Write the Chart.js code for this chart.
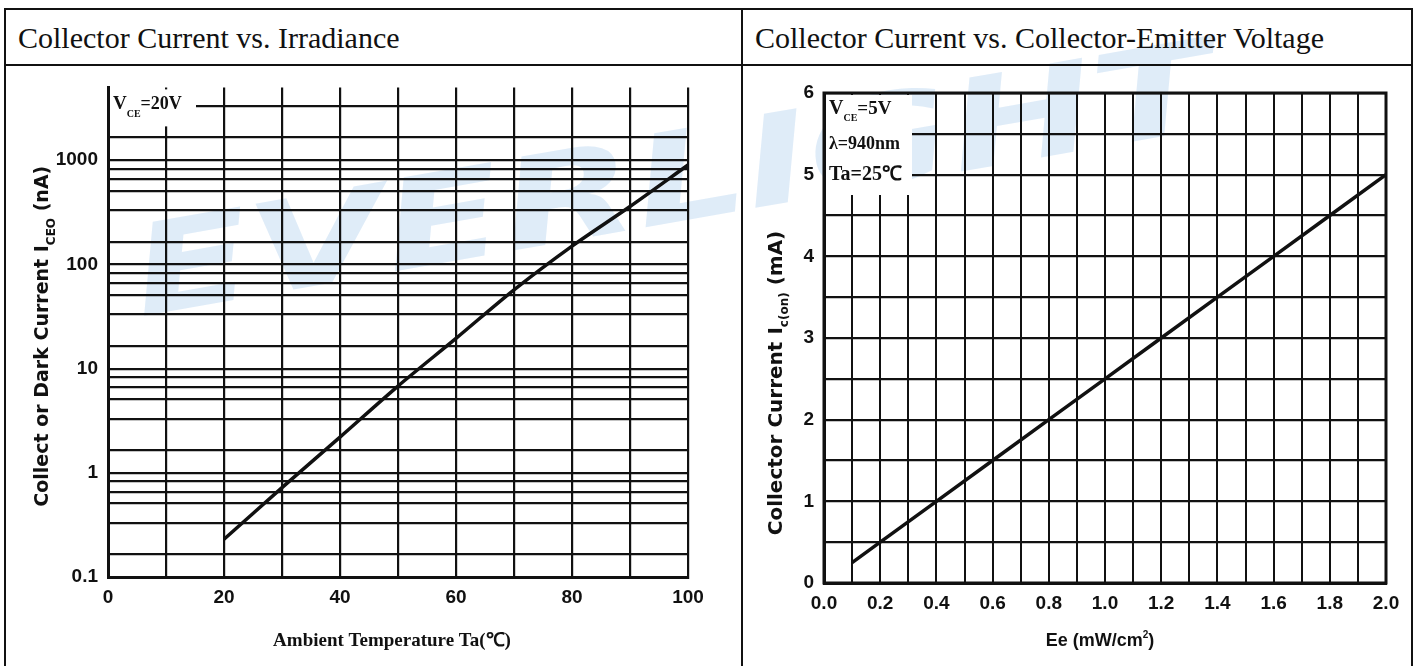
<!DOCTYPE html>
<html>
<head>
<meta charset="utf-8">
<script src="https://cdn.jsdelivr.net/npm/chart.js@4"></script>
<style>
  body { margin: 0; background: #fff; width: 1417px; height: 666px; overflow: hidden; position: relative; font-family: "Liberation Serif", serif; }
  .line { position: absolute; background: #111; }
  .head { position: absolute; top: 23px; font-size: 30px; line-height: 30px; color: #111; font-family: "Liberation Serif", serif; }
  .wm { position: absolute; left: 122px; top: 212px; font: italic bold 125px/1 "DejaVu Sans", sans-serif; color: rgba(140,185,230,0.28);
        transform: rotate(-10deg) scaleX(1.4); transform-origin: left top; white-space: nowrap; z-index: 0; }
  .box { position: absolute; z-index: 1; }
</style>
</head>
<body>
<div class="wm">EVERLIGHT</div>

<div class="line" style="left:4px;top:8px;width:1409px;height:2px"></div>
<div class="line" style="left:4px;top:64px;width:1409px;height:2px"></div>
<div class="line" style="left:4px;top:8px;width:2px;height:660px"></div>
<div class="line" style="left:741px;top:8px;width:2px;height:660px"></div>
<div class="line" style="left:1411px;top:8px;width:2px;height:660px"></div>
<div class="head" style="left:18px">Collector Current vs. Irradiance</div>
<div class="head" style="left:755px">Collector Current vs. Collector-Emitter Voltage</div>

<div class="box" style="left:6px;top:66px;width:734px;height:600px"><canvas id="darkChart"></canvas></div>
<div class="box" style="left:744px;top:66px;width:666px;height:600px"><canvas id="onChart"></canvas></div>

<script>
// left chart: dark current vs temperature
const tempC = [20, 30, 40, 50, 60, 70, 80, 90, 100];
const darkCurrent = [0.23, 0.72, 2.2, 6.8, 19.5, 57, 150, 360, 900];
const darkDecades = [0.1, 1, 10, 100, 1000];
const darkDecadeLabels = ['0.1', '1', '10', '100', '1000'];
const darkMinorSteps = [0.83, 0.66, 0.51, 0.33, 0.165];
const tempTicks = [0, 20, 40, 60, 80, 100];

// right chart: collector current vs irradiance
const irradiance = [0.1, 0.2, 0.4, 0.6, 0.8, 1.0, 1.2, 1.4, 1.6, 1.8, 2.0];
const onCurrent = [0.25, 0.5, 1.0, 1.5, 2.0, 2.5, 3.0, 3.5, 4.0, 4.5, 5.0];

Chart.defaults.animation = false;
Chart.defaults.color = '#111';

const tickFont = { family: '"Liberation Sans Narrow", "Liberation Sans", sans-serif', weight: 'bold', size: 19 };

// draws a line of text made of pieces, some of them subscript
function drawRich(ctx, parts, x, y, align) {
  let w = 0;
  parts.forEach(p => { ctx.font = p.font; w += ctx.measureText(p.text).width; });
  let cx = align === 'center' ? x - w / 2 : x;
  ctx.textAlign = 'left';
  ctx.textBaseline = 'alphabetic';
  parts.forEach(p => {
    ctx.font = p.font;
    ctx.fillText(p.text, cx, y + (p.dy || 0));
    cx += ctx.measureText(p.text).width;
  });
  return w;
}

// axis titles and note boxes
const extrasPlugin = {
  id: 'extras',
  afterDraw(chart, args, opts) {
    const ctx = chart.ctx;
    const a = chart.chartArea;
    ctx.save();
    // note box, white patch over the grid
    const b = opts.box;
    ctx.fillStyle = '#fff';
    ctx.fillRect(a.left + 2, a.top + 2, b.w, b.h);
    ctx.fillStyle = '#111';
    b.lines.forEach(l => drawRich(ctx, l.parts, a.left + 5, a.top + l.y, 'left'));
    // x title
    drawRich(ctx, opts.xTitle, (a.left + a.right) / 2 + (opts.xShift || 0), opts.xTitleY, 'center');
    // y title
    ctx.translate(opts.yTitleX, (a.top + a.bottom) / 2 + (opts.yShift || 0));
    ctx.rotate(-Math.PI / 2);
    drawRich(ctx, opts.yTitle, 0, 0, 'center');
    ctx.restore();
  }
};

const serifB = s => 'bold ' + s + 'px "Liberation Serif", serif';
const heavy = s => 'bold ' + s + 'px "DejaVu Sans", sans-serif';
const narrowB = s => 'bold ' + s + 'px "Liberation Sans Narrow", sans-serif';

const darkGrid = [];
darkDecades.concat([10000]).forEach(d => {
  if (d <= 1000) darkGrid.push(d);
  darkMinorSteps.forEach(m => {
    const v = d * m;
    if (v > 0.1 && v < 5000) darkGrid.push(+v.toPrecision(4));
  });
});

new Chart(document.getElementById('darkChart'), {
  type: 'line',
  data: {
    labels: tempC,
    datasets: [{
      data: tempC.map((t, i) => ({ x: t, y: darkCurrent[i] })),
      borderColor: '#111',
      borderWidth: 3.5,
      pointRadius: 0,
      tension: 0.3
    }]
  },
  options: {
    responsive: true,
    maintainAspectRatio: false,
    layout: { padding: { left: 0, top: 19, right: 52, bottom: 0 } },
    plugins: {
      legend: { display: false },
      tooltip: { enabled: false },
      extras: {
        box: { w: 86, h: 37, lines: [
          { y: 22, parts: [{ text: 'V', font: serifB(19) }, { text: 'CE', font: serifB(10), dy: 8 }, { text: '=20V', font: serifB(18) }] }
        ] },
        xTitle: [{ text: 'Ambient Temperature Ta(\u2103)', font: serifB(19) }],
        xTitleY: 580,
        xShift: -6,
        yTitle: [{ text: 'Collect or Dark Current I', font: heavy(19) }, { text: 'CEO', font: heavy(12), dy: 7 }, { text: ' (nA)', font: heavy(19) }],
        yTitleX: 42,
        yShift: 4
      }
    },
    scales: {
      x: {
        type: 'linear',
        min: 0, max: 100,
        afterBuildTicks: s => { s.ticks = [0, 10, 20, 30, 40, 50, 60, 70, 80, 90, 100].map(v => ({ value: v })); },
        ticks: { font: tickFont, maxRotation: 0, autoSkip: false, padding: 9,
                 callback: v => tempTicks.includes(v) ? String(v) : '' },
        grid: { color: '#111', lineWidth: 2.2, drawTicks: false },
        border: { color: '#111', width: 3 },
        afterFit: s => { s.height = 89; }
      },
      y: {
        type: 'logarithmic',
        min: 0.1, max: 5000,
        afterBuildTicks: s => { s.ticks = darkGrid.map(v => ({ value: v })); },
        ticks: { font: tickFont, autoSkip: false, padding: 10,
                 callback: v => { const i = darkDecades.indexOf(v); return i >= 0 ? darkDecadeLabels[i] : ''; } },
        grid: { color: '#111', lineWidth: 2.2, drawTicks: false },
        border: { color: '#111', width: 3 },
        afterFit: s => { s.width = 102; }
      }
    }
  },
  plugins: [extrasPlugin]
});

// full frame round the plot area
const framePlugin = {
  id: 'frame',
  afterDatasetsDraw(chart) {
    const a = chart.chartArea, ctx = chart.ctx;
    ctx.save();
    ctx.strokeStyle = '#111';
    ctx.lineWidth = 3;
    ctx.strokeRect(a.left, a.top, a.right - a.left, a.bottom - a.top);
    ctx.restore();
  }
};
Chart.register(framePlugin);

new Chart(document.getElementById('onChart'), {
  type: 'line',
  data: {
    labels: irradiance,
    datasets: [{
      data: irradiance.map((e, i) => ({ x: e, y: onCurrent[i] })),
      borderColor: '#111',
      borderWidth: 3.5,
      pointRadius: 0
    }]
  },
  options: {
    responsive: true,
    maintainAspectRatio: false,
    layout: { padding: { left: 0, top: 27, right: 24, bottom: 0 } },
    plugins: {
      legend: { display: false },
      tooltip: { enabled: false },
      extras: {
        box: { w: 86, h: 100, lines: [
          { y: 21, parts: [{ text: 'V', font: serifB(20) }, { text: 'CE', font: serifB(10), dy: 7 }, { text: '=5V', font: serifB(19) }] },
          { y: 56, parts: [{ text: '\u03bb=940nm', font: serifB(18) }] },
          { y: 87, parts: [{ text: 'Ta=25\u2103', font: serifB(20) }] }
        ] },
        xTitle: [{ text: 'Ee (mW/cm', font: narrowB(18) }, { text: '2', font: narrowB(10), dy: -8 }, { text: ')', font: narrowB(18) }],
        xTitleY: 580,
        xShift: -5,
        yTitle: [{ text: 'Collector Current I', font: heavy(20) }, { text: 'c(on)', font: heavy(12), dy: 6 }, { text: ' (mA)', font: heavy(20) }],
        yTitleX: 38,
        yShift: 45
      }
    },
    scales: {
      x: {
        type: 'linear',
        min: 0, max: 2,
        ticks: { stepSize: 0.1, font: tickFont, maxRotation: 0, autoSkip: false, padding: 9,
                 callback: (v, i) => i % 2 === 0 ? v.toFixed(1) : '' },
        grid: { color: '#111', lineWidth: 2, drawTicks: false },
        border: { color: '#111', width: 3 },
        afterFit: s => { s.height = 83; }
      },
      y: {
        type: 'linear',
        min: 0, max: 6,
        ticks: { stepSize: 0.5, font: tickFont, autoSkip: false, padding: 10,
                 callback: v => Number.isInteger(v) ? String(v) : '' },
        grid: { color: '#111', lineWidth: 2.2, drawTicks: false },
        border: { color: '#111', width: 3 },
        afterFit: s => { s.width = 80; }
      }
    }
  },
  plugins: [extrasPlugin]
});
</script>
</body>
</html>
